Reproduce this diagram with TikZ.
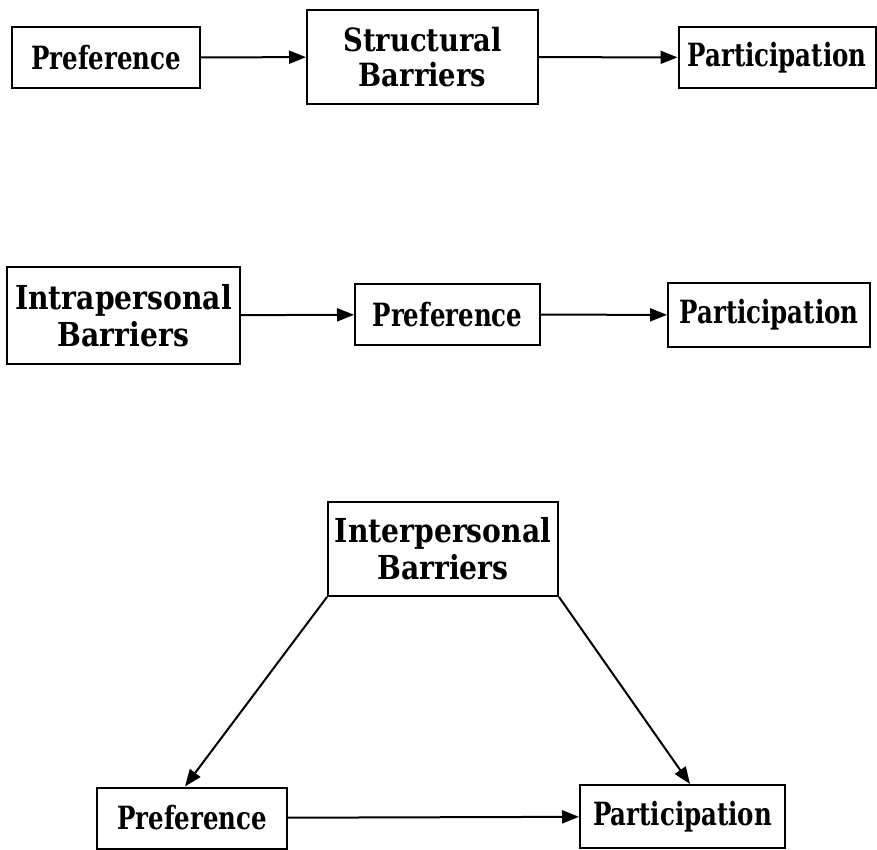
\documentclass[tikz,border=0pt]{standalone}
\usepackage{fontspec}
\setmainfont{DejaVu Serif Condensed}[FakeStretch=0.85]
\newfontfamily\wideserif{DejaVu Serif Condensed}[FakeStretch=0.95]
\usetikzlibrary{arrows.meta}
\tikzset{
  box/.style={draw, line width=2pt, inner sep=0pt, font=\bfseries\fontsize{32}{37}\selectfont, align=center},
  boxw/.style={box, font=\wideserif\bfseries\fontsize{33}{37}\selectfont},
  conn/.style={line width=2pt, -{Triangle[length=17pt,width=13pt]}},
}
\begin{document}
\begin{tikzpicture}[x=1pt,y=-1pt]
\useasboundingbox (0,0) rectangle (877,850);
% row 1
\node[box, minimum width=188pt, minimum height=61pt] (p1) at (106,57.5) {Preference};
\node[boxw, font=\wideserif\bfseries\fontsize{32}{35}\selectfont, minimum width=231pt, minimum height=94pt] (s1) at (422.5,57) {Structural\\Barriers};
\node[box, minimum width=197pt, minimum height=61pt] (q1) at (777,57.5) {Participation};
\draw[conn] (p1) -- (s1);
\draw[conn] (s1) -- (q1);
% row 2
\node[boxw, minimum width=233pt, minimum height=97pt] (i2) at (123.5,315.5) {Intrapersonal\\Barriers};
\node[box, minimum width=185pt, minimum height=61pt] (p2) at (447.5,314.5) {Preference};
\node[box, minimum width=202pt, minimum height=64pt] (q2) at (769,315) {Participation};
\draw[conn] (i2) -- (p2);
\draw[conn] (p2) -- (q2);
% row 3
\node[boxw, minimum width=230pt, minimum height=94pt] (b3) at (443,549) {Interpersonal\\Barriers};
\node[box, minimum width=190pt, minimum height=61pt] (p3) at (192,818) {Preference};
\node[box, minimum width=205pt, minimum height=63pt] (q3) at (682.5,816.5) {Participation};
\draw[conn] (b3.south west) -- (p3.north -| 185,0);
\draw[conn] (b3.south east) -- (q3.north -| 690,0);
\draw[conn] (p3) -- (q3);
\end{tikzpicture}
\end{document}
